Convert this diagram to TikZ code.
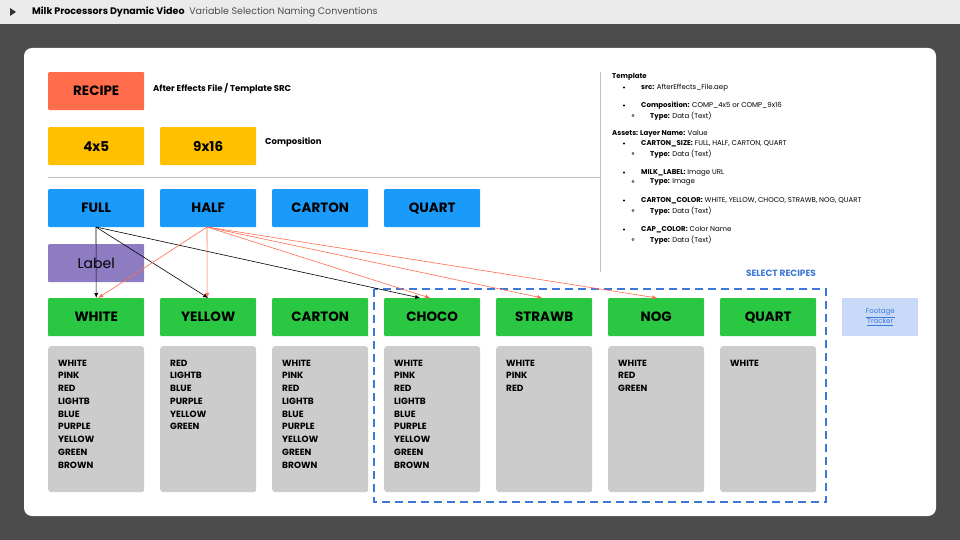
\documentclass[tikz,border=0pt]{standalone}
\usepackage{fontspec}
\setmainfont{Poppins}
\usetikzlibrary{arrows.meta}
\begin{document}
\begin{tikzpicture}[x=1pt,y=-1pt,
 box/.style={draw=none,minimum width=96pt,minimum height=38pt,anchor=north west,rounded corners=1pt,font=\fontsize{13.5}{13.5}\selectfont\bfseries},
 lst/.style={fill=black!20,minimum width=96pt,minimum height=146pt,anchor=north west,rounded corners=3pt,inner sep=0pt},
 blk/.style={-{Latex[length=5pt,width=4pt]},black,line width=0.6pt},
 sm/.style={font=\fontsize{7}{8}\selectfont,anchor=north west,inner sep=0pt,align=left}]
\definecolor{coral}{HTML}{FF6D4D}\definecolor{gold}{HTML}{FFC000}
\definecolor{bl}{HTML}{1A9BFC}\definecolor{pur}{HTML}{8E7CC3}
\definecolor{gr}{HTML}{2AC742}\definecolor{sel}{HTML}{3C78D8}
\definecolor{ft}{HTML}{C9DAF8}\definecolor{ora}{HTML}{FF6D4D}
\tikzset{org/.style={-{Latex[length=5pt,width=4pt]},ora,line width=0.6pt}}
\useasboundingbox (0,0) rectangle (960,540);
\fill[black!70] (0,0) rectangle (960,540);
\fill[black!8] (0,0) rectangle (960,24);
\fill[black!80] (10,8) -- (16,12) -- (10,16) -- cycle;
\node[anchor=west,font=\fontsize{9.5}{9.5}\selectfont,inner sep=0pt] (title) at (32,12) {\textbf{Milk Processors Dynamic Video}\enspace \textcolor{black!70}{Variable Selection Naming Conventions}};
\fill[white,rounded corners=8pt] (24,48) rectangle (936,516);
\node[box,fill=coral] (recipe) at (48,72) {RECIPE};
\node[anchor=west,font=\fontsize{8.5}{8.5}\selectfont\bfseries,inner sep=0pt] (rl) at (153,89) {After Effects File / Template SRC};
\node[box,fill=gold] (c45) at (48,127) {4x5};
\node[box,fill=gold] (c916) at (160,127) {9x16};
\node[anchor=west,font=\fontsize{8.5}{8.5}\selectfont\bfseries,inner sep=0pt] (cl) at (265,142) {Composition};
\draw[black!25,line width=0.6pt] (48,177) -- (600,177);
\draw[black!25,line width=0.6pt] (600,72) -- (600,272);
\node[box,fill=bl] (full) at (48,189) {FULL};
\node[box,fill=bl] (half) at (160,189) {HALF};
\node[box,fill=bl] (carton) at (272,189) {CARTON};
\node[box,fill=bl] (quart) at (384,189) {QUART};
\node[box,fill=pur,font=\fontsize{14}{14}\selectfont] (label) at (48,244) {Label};
\foreach \n/\t/\x in {gw/WHITE/48,gy/YELLOW/160,gc/CARTON/272,gch/CHOCO/384,gs/STRAWB/496,gn/NOG/608,gq/QUART/720}
  \node[box,fill=gr] (\n) at (\x,298) {\t};
\def\ta{WHITE\\PINK\\RED\\LIGHTB\\BLUE\\PURPLE\\YELLOW\\GREEN\\BROWN}
\foreach \n/\x/\t in {l1/48/{\ta},l2/160/{RED\\LIGHTB\\BLUE\\PURPLE\\YELLOW\\GREEN},l3/272/{\ta},l4/384/{\ta},l5/496/{WHITE\\PINK\\RED},l6/608/{WHITE\\RED\\GREEN},l7/720/{WHITE}}{
  \node[lst] (\n) at (\x,346) {};
  \node[anchor=north west,inner sep=0pt,font=\fontsize{9}{12.75}\selectfont\bfseries,align=left] (\n t) at (\x+10,359.5) {\t};}
\draw[sel,line width=2pt,dash pattern=on 8pt off 5pt] (374,289) rectangle (826,502);
\node[font=\fontsize{9}{9}\selectfont\bfseries,text=sel] (selr) at (781,273) {SELECT RECIPES};
\node[fill=ft,minimum width=76pt,minimum height=38pt,anchor=north west,font=\fontsize{7}{9}\selectfont,text=sel,align=center,inner sep=0pt] (ftr) at (842,298) {\underline{Footage}\\\underline{Tracker}};
\coordinate (fb) at (96,227); \coordinate (hb) at (207,227);
\draw[blk] (fb) -- (gw.north);
\draw[blk] (fb) -- (gy.north);
\draw[blk] (fb) -- ([xshift=-12pt]gch.north);
\draw[org] (hb) -- ([xshift=2pt]gw.north);
\draw[org] (hb) -- ([xshift=-1pt]gy.north);
\draw[org] (hb) -- ([xshift=-2pt]gch.north);
\draw[org] (hb) -- ([xshift=-2pt]gs.north);
\draw[org] (hb) -- ([xshift=1pt]gn.north);
\node[sm] (tp) at (612,73) {\textbf{Template}};
\foreach \y/\t in {84/{\textbf{src:} AfterEffects\_File.aep},102/{\textbf{Composition:} COMP\_4x5 or COMP\_9x16},140/{\textbf{CARTON\_SIZE:} FULL, HALF, CARTON, QUART},169/{\textbf{MILK\_LABEL:} Image URL},197/{\textbf{CARTON\_COLOR:} WHITE, YELLOW, CHOCO, STRAWB, NOG, QUART},226/{\textbf{CAP\_COLOR:} Color Name}}{
  \fill (624,\y+3.5) circle (1.1pt);
  \node[sm] at (641,\y) {\t};}
\foreach \y/\t in {112/{Data (Text)},150/{Data (Text)},178/{Image},207/{Data (Text)},236/{Data (Text)}}{
  \draw[line width=0.3pt] (633,\y+3.5) circle (1.1pt);
  \node[sm] at (650,\y) {\textbf{Type:} \t};}
\node[sm] (as) at (612,130) {\textbf{Assets: Layer Name:} Value};
\end{tikzpicture}
\end{document}
